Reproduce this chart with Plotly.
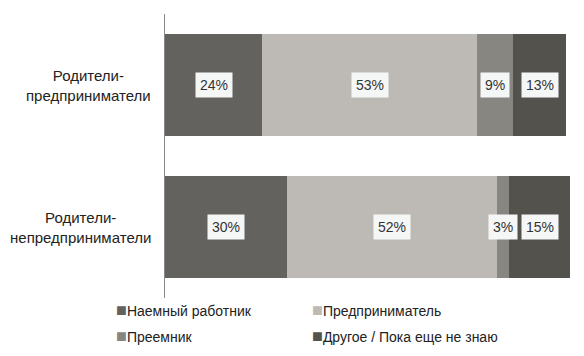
import plotly.graph_objects as go

categories = ["Родители-<br>предприниматели", "Родители-<br>непредприниматели"]
series_names = ["Наемный работник", "Предприниматель", "Преемник", "Другое / Пока еще не знаю"]
hired = [24, 30]
entrepreneur = [53, 52]
successor = [9, 3]
other = [13, 15]
series_values = [hired, entrepreneur, successor, other]
colors = ["#63625E", "#BDBAB5", "#878680", "#53524D"]

FONT = "Liberation Sans, Arial, sans-serif"

fig = go.Figure()
for name, vals, col in zip(series_names, series_values, colors):
    fig.add_trace(go.Bar(
        y=categories, x=vals, name=name, orientation="h",
        marker=dict(color=col, line=dict(width=0)),
        hoverinfo="skip", showlegend=False,
    ))

# value labels with light boxes
for ci, cat in enumerate(categories):
    cum = 0
    for vals in series_values:
        v = vals[ci]
        fig.add_annotation(
            x=cum + v / 2, y=cat, xref="x", yref="y",
            text=f"{v}%", showarrow=False,
            font=dict(family=FONT, size=14, color="#333333"),
            bgcolor="#F5F7F7", borderpad=4,
        )
        cum += v
    # category labels (centered multi-line)
    fig.add_annotation(
        x=-0.03, y=cat, xref="paper", yref="y",
        text=cat, showarrow=False, xanchor="right", align="center",
        font=dict(family=FONT, size=15, color="#222222"),
    )

# legend drawn as text entries (2 x 2 grid)
legend_pos = [(-0.126, -0.042), (0.358, -0.042), (-0.126, -0.134), (0.358, -0.134)]
for name, col, (lx, ly) in zip(series_names, colors, legend_pos):
    fig.add_annotation(
        x=lx, y=ly, xref="paper", yref="paper", xanchor="left", yanchor="middle",
        text=f"<span style='color:{col};font-size:18px'>■</span>{name}", showarrow=False,
        font=dict(family=FONT, size=14, color="#222222"),
    )

# page body has an 8px margin, so the figure is shifted by 8px; compensate
fig.update_layout(
    barmode="stack",
    width=576, height=348,
    margin=dict(l=157, r=14, t=6, b=58, autoexpand=False),
    paper_bgcolor="white", plot_bgcolor="white",
    bargap=0.28,
    font=dict(family=FONT, size=14, color="#222222"),
    xaxis=dict(range=[0, 100], showgrid=False, zeroline=False, showticklabels=False,
               ticks="", showline=False, fixedrange=True),
    yaxis=dict(autorange="reversed", showticklabels=False, ticks="", showgrid=False,
               zeroline=False, showline=True, linecolor="#888888", linewidth=1,
               fixedrange=True),
    showlegend=False,
)

fig.write_html("out.html", config={"displayModeBar": False})
